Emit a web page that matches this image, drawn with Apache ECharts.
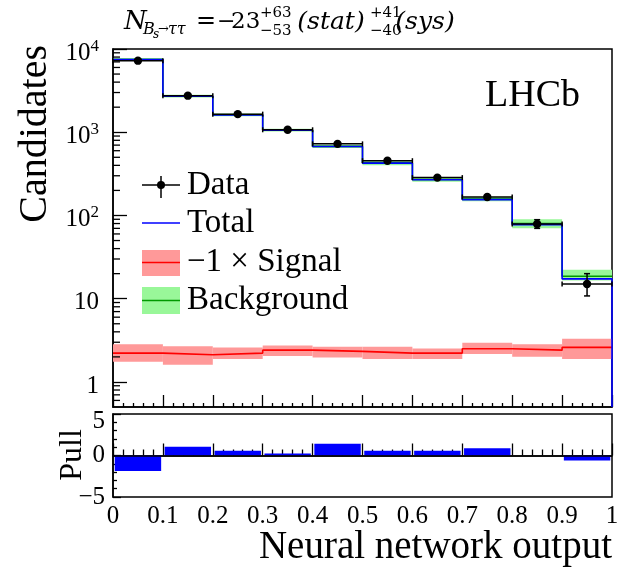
<!DOCTYPE html>
<html>
<head>
<meta charset="utf-8">
<script src="https://cdn.jsdelivr.net/npm/echarts@6/dist/echarts.min.js"></script>
<style>
  html, body { margin: 0; padding: 0; background: #fff; }
  #chart { width: 640px; height: 567px; }
</style>
</head>
<body>
<div id="chart"></div>
<script>
// bin edges of the neural network output
var binEdges = [0, 0.1, 0.2, 0.3, 0.4, 0.5, 0.6, 0.7, 0.8, 0.9, 1.0];

// data points (candidates) and their error bars
var dataVals = [7240, 2750, 1650, 1070, 725, 455, 285, 167, 79, 15];
var dataErrLow = [85, 52, 41, 33, 27, 21, 17, 13, 9, 4.2];
var dataErrHigh = [85, 53, 41, 33, 27, 22, 17, 14, 10, 5];

// fit total (blue)
var totalVals = [7480, 2710, 1617, 1060, 674, 426, 269, 155, 77.6, 17.3];

// background (green) and its band
var bkgVals = [7482, 2712, 1619, 1062, 676, 428, 271, 158, 80, 18.6];
var bkgLow = [7200, 2610, 1560, 1020, 645, 400, 255, 148, 70, 16.6];
var bkgHigh = [7780, 2820, 1680, 1105, 705, 455, 288, 168, 90, 22.3];

// -1 x signal (red) and its band
var sigVals = [2.22, 2.12, 2.22, 2.41, 2.33, 2.22, 2.22, 2.51, 2.41, 2.60];
var sigLow = [1.75, 1.61, 1.88, 2.05, 1.97, 1.88, 1.88, 2.16, 2.01, 1.88];
var sigHigh = [2.83, 2.69, 2.60, 2.75, 2.65, 2.65, 2.53, 2.96, 2.83, 3.30];

// pulls
var pullVals = [-1.88, 1.05, 0.58, 0.24, 1.42, 0.57, 0.57, 0.88, 0, -0.6];

var yMin = 0.5, yMax = 10000;
var serif = 'Liberation Serif';
var mathFont = 'DejaVu Serif';

var chart = echarts.init(document.getElementById('chart'), null, {renderer: 'canvas'});

// helpers to build series data from the arrays
function stepData(vals, dropEnd) {
    var d = [];
    for (var i = 0; i < vals.length; i++) d.push([binEdges[i], vals[i]]);
    d.push([binEdges[vals.length], vals[vals.length - 1]]);
    if (dropEnd) d.push([binEdges[vals.length], yMin]);
    return d;
}
function bandData(lo, hi) {
    return lo.map(function (v, i) { return [binEdges[i], binEdges[i + 1], v, hi[i]]; });
}
function bandSeries(name, lo, hi, color) {
    return {
        name: name, type: 'custom', xAxisIndex: 0, yAxisIndex: 0, silent: true, z: 1,
        data: bandData(lo, hi),
        encode: {x: [0, 1], y: [2, 3]},
        renderItem: function (params, api) {
            var p0 = api.coord([api.value(0), api.value(3)]);
            var p1 = api.coord([api.value(1), api.value(2)]);
            return {type: 'rect', shape: {x: p0[0], y: p0[1], width: p1[0] - p0[0], height: p1[1] - p0[1]},
                style: {fill: color}};
        }
    };
}
function stepSeries(name, vals, color, dropEnd, z) {
    return {
        name: name, type: 'line', xAxisIndex: 0, yAxisIndex: 0, step: 'end', silent: true,
        showSymbol: false, symbol: 'none', z: z,
        data: stepData(vals, dropEnd),
        lineStyle: {color: color, width: 1.6}
    };
}
// plain text element for the graphic layer
function txt(x, y, s, size, opt) {
    opt = opt || {};
    return {
        type: 'text', x: x, y: y, rotation: opt.rot || 0,
        style: {
            text: s, fontSize: size, fontFamily: opt.family || serif,
            fontStyle: opt.italic ? 'italic' : 'normal', fill: '#000',
            align: opt.align || 'left', verticalAlign: 'middle'
        }
    };
}

// minor ticks of the log axis (2..9 of every decade)
var minorTicks = [];
[0.1, 1, 10, 100, 1000].forEach(function (dec) {
    for (var k = 2; k <= 9; k++) {
        var v = dec * k;
        if (v > yMin && v < yMax) minorTicks.push([0, v]);
    }
});

var labelSup = {
    b: {fontSize: 25, fontFamily: serif, color: '#000', lineHeight: 30},
    s: {fontSize: 17, fontFamily: serif, color: '#000', lineHeight: 12, verticalAlign: 'top'}
};

var option = {
    animation: false,
    backgroundColor: '#fff',
    textStyle: {fontFamily: serif},
    grid: [
        {left: 113, right: 28, top: 49, height: 358, show: true, borderColor: '#000', borderWidth: 1.5},
        {left: 113, right: 28, top: 414, height: 83, show: true, borderColor: '#000', borderWidth: 1.5}
    ],
    xAxis: [
        {
            type: 'value', gridIndex: 0, min: 0, max: 1, interval: 0.1,
            axisLine: {lineStyle: {color: '#000', width: 1.5}},
            axisTick: {inside: true, length: 12, lineStyle: {color: '#000', width: 1.3}},
            minorTick: {show: true, splitNumber: 5, length: 4, lineStyle: {color: '#000', width: 1.3}},
            axisLabel: {show: false},
            splitLine: {show: false}
        },
        {
            type: 'value', gridIndex: 1, min: 0, max: 1, interval: 0.1,
            axisLine: {lineStyle: {color: '#000', width: 1.5}},
            axisTick: {inside: true, length: 12, lineStyle: {color: '#000', width: 1.3}},
            minorTick: {show: true, splitNumber: 5, length: 6, lineStyle: {color: '#000', width: 1.3}},
            axisLabel: {
                color: '#000', fontFamily: serif, fontSize: 25, margin: 7,
                showMinLabel: true, showMaxLabel: true,
                formatter: function (v) { return String(Math.round(v * 10) / 10); }
            },
            splitLine: {show: false}
        }
    ],
    yAxis: [
        {
            type: 'log', gridIndex: 0, logBase: 10, min: yMin, max: yMax,
            axisLine: {show: true, lineStyle: {color: '#000', width: 1.5}},
            axisTick: {inside: true, length: 14, lineStyle: {color: '#000', width: 1.3}},
            axisLabel: {
                color: '#000', fontFamily: serif, fontSize: 25, margin: 14, showMinLabel: false,
                padding: [8, 0, 0, 0],
                formatter: function (v) {
                    var e = Math.round(Math.log(v) / Math.LN10);
                    if (Math.abs(v - Math.pow(10, e)) > 1e-6 * v) return '';
                    if (e <= 1) return '{b|' + Math.pow(10, e) + '}';
                    return '{b|10}{s|' + e + '}';
                },
                rich: labelSup
            },
            splitLine: {show: false}
        },
        {
            type: 'value', gridIndex: 1, min: -5, max: 5, interval: 5,
            axisLine: {show: true, lineStyle: {color: '#000', width: 1.5}},
            axisTick: {inside: true, length: 8, lineStyle: {color: '#000', width: 1.3}},
            minorTick: {show: true, splitNumber: 5, length: 4, lineStyle: {color: '#000', width: 1.3}},
            axisLabel: {
                color: '#000', fontFamily: serif, fontSize: 25, margin: 8,
                formatter: function (v) {
                    if (v === 5) return '{t|5}';
                    return v < 0 ? '\u2212' + Math.abs(v) : String(v);
                },
                rich: {t: {fontSize: 25, fontFamily: serif, color: '#000', padding: [14, 0, 0, 0]}}
            },
            splitLine: {show: false}
        }
    ],
    graphic: [
        // axis titles and experiment label
        txt(35, 45, 'Candidates', 40, {rot: Math.PI / 2, align: 'right'}),
        txt(73, 455, 'Pull', 32, {rot: Math.PI / 2, align: 'center'}),
        txt(612, 548, 'Neural network output', 39, {align: 'right'}),
        txt(485, 96, 'LHCb', 38),

        // legend: Data
        {type: 'line', shape: {x1: 142, y1: 185, x2: 180, y2: 185}, style: {stroke: '#000', lineWidth: 1.5}},
        {type: 'line', shape: {x1: 161, y1: 176, x2: 161, y2: 198}, style: {stroke: '#000', lineWidth: 1.5}},
        {type: 'circle', shape: {cx: 161, cy: 185, r: 4}, style: {fill: '#000'}},
        txt(187, 185, 'Data', 33),
        // legend: Total
        {type: 'line', shape: {x1: 142, y1: 223, x2: 180, y2: 223}, style: {stroke: '#0000ff', lineWidth: 1.6}},
        txt(187, 223, 'Total', 33),
        // legend: -1 x Signal
        {type: 'rect', shape: {x: 142, y: 250, width: 38, height: 26}, style: {fill: '#ff9999'}},
        {type: 'line', shape: {x1: 142, y1: 262.5, x2: 180, y2: 262.5}, style: {stroke: '#ff0000', lineWidth: 1.6}},
        txt(187, 262, '\u22121 \u00d7 Signal', 33),
        // legend: Background
        {type: 'rect', shape: {x: 142, y: 287, width: 38, height: 27}, style: {fill: '#99f799'}},
        {type: 'line', shape: {x1: 142, y1: 300.5, x2: 180, y2: 300.5}, style: {stroke: '#009900', lineWidth: 1.6}},
        txt(187, 300, 'Background', 33),

        // title: N_{Bs->tautau} = -23 +63/-53 (stat) +41/-40 (sys)
        txt(124, 22, 'N', 26, {family: mathFont, italic: true}),
        txt(143, 30, 'B', 16, {family: mathFont, italic: true}),
        txt(153, 35, 's', 12, {family: mathFont, italic: true}),
        txt(158, 30, '\u2192', 13, {family: mathFont}),
        txt(168, 30, '\u03c4\u03c4', 16, {family: mathFont, italic: true}),
        txt(196, 22, '=', 24, {family: mathFont}),
        txt(217, 22, '\u2212', 22, {family: mathFont}),
        txt(231, 22, '23', 23, {family: mathFont}),
        txt(260, 13, '+63', 15, {family: mathFont}),
        txt(260, 31, '\u221253', 15, {family: mathFont}),
        txt(331, 22, '(stat)', 25, {family: mathFont, italic: true, align: 'center'}),
        txt(370, 13, '+41', 15, {family: mathFont}),
        txt(370, 31, '\u221240', 15, {family: mathFont}),
        txt(425, 22, '(sys)', 25, {family: mathFont, italic: true, align: 'center'})
    ],
    series: [
        bandSeries('Background band', bkgLow, bkgHigh, '#99f799'),
        bandSeries('Signal band', sigLow, sigHigh, '#ff9999'),
        stepSeries('Background', bkgVals, '#009900', false, 3),
        stepSeries('Total', totalVals, '#0000ff', true, 4),
        stepSeries('\u22121 \u00d7 Signal', sigVals, '#ff0000', false, 3),
        {
            name: 'Data', type: 'custom', xAxisIndex: 0, yAxisIndex: 0, silent: true, z: 6,
            data: dataVals.map(function (v, i) {
                return [binEdges[i], binEdges[i + 1], v, v - dataErrLow[i], v + dataErrHigh[i]];
            }),
            encode: {x: [0, 1], y: [2, 3, 4]},
            renderItem: function (params, api) {
                var x0 = api.value(0), x1 = api.value(1), xc = (x0 + x1) / 2;
                var pl = api.coord([x0, api.value(2)]);
                var pr = api.coord([x1, api.value(2)]);
                var pc = api.coord([xc, api.value(2)]);
                var plo = api.coord([xc, api.value(3)]);
                var phi = api.coord([xc, api.value(4)]);
                var st = {stroke: '#000', lineWidth: 1.5};
                var kids = [
                    {type: 'line', shape: {x1: pl[0], y1: pl[1], x2: pr[0], y2: pr[1]}, style: st},
                    {type: 'line', shape: {x1: pl[0], y1: pl[1] - 2.5, x2: pl[0], y2: pl[1] + 2.5}, style: st},
                    {type: 'line', shape: {x1: pr[0], y1: pr[1] - 2.5, x2: pr[0], y2: pr[1] + 2.5}, style: st}
                ];
                if (plo[1] - phi[1] > 8) {
                    kids.push({type: 'line', shape: {x1: pc[0], y1: phi[1], x2: pc[0], y2: plo[1]}, style: st});
                    kids.push({type: 'line', shape: {x1: pc[0] - 3, y1: phi[1], x2: pc[0] + 3, y2: phi[1]}, style: st});
                    kids.push({type: 'line', shape: {x1: pc[0] - 3, y1: plo[1], x2: pc[0] + 3, y2: plo[1]}, style: st});
                }
                kids.push({type: 'circle', shape: {cx: pc[0], cy: pc[1], r: 4.2}, style: {fill: '#000'}});
                return {type: 'group', children: kids};
            }
        },
        {
            name: 'log minor ticks', type: 'custom', xAxisIndex: 0, yAxisIndex: 0, silent: true, z: 7,
            data: minorTicks,
            renderItem: function (params, api) {
                var p = api.coord([api.value(0), api.value(1)]);
                return {type: 'line', shape: {x1: p[0], y1: p[1], x2: p[0] + 7, y2: p[1]},
                    style: {stroke: '#000', lineWidth: 1.3}};
            }
        },
        {
            name: 'Pull', type: 'bar', xAxisIndex: 1, yAxisIndex: 1, silent: true, barWidth: '93%',
            data: pullVals.map(function (v, i) { return [(binEdges[i] + binEdges[i + 1]) / 2, v]; }),
            itemStyle: {color: '#0000ff'},
            markLine: {
                silent: true, symbol: 'none', label: {show: false},
                lineStyle: {color: '#000', width: 1.6, type: 'solid'},
                data: [{yAxis: 0}]
            }
        }
    ]
};

chart.setOption(option);
</script>
</body>
</html>
